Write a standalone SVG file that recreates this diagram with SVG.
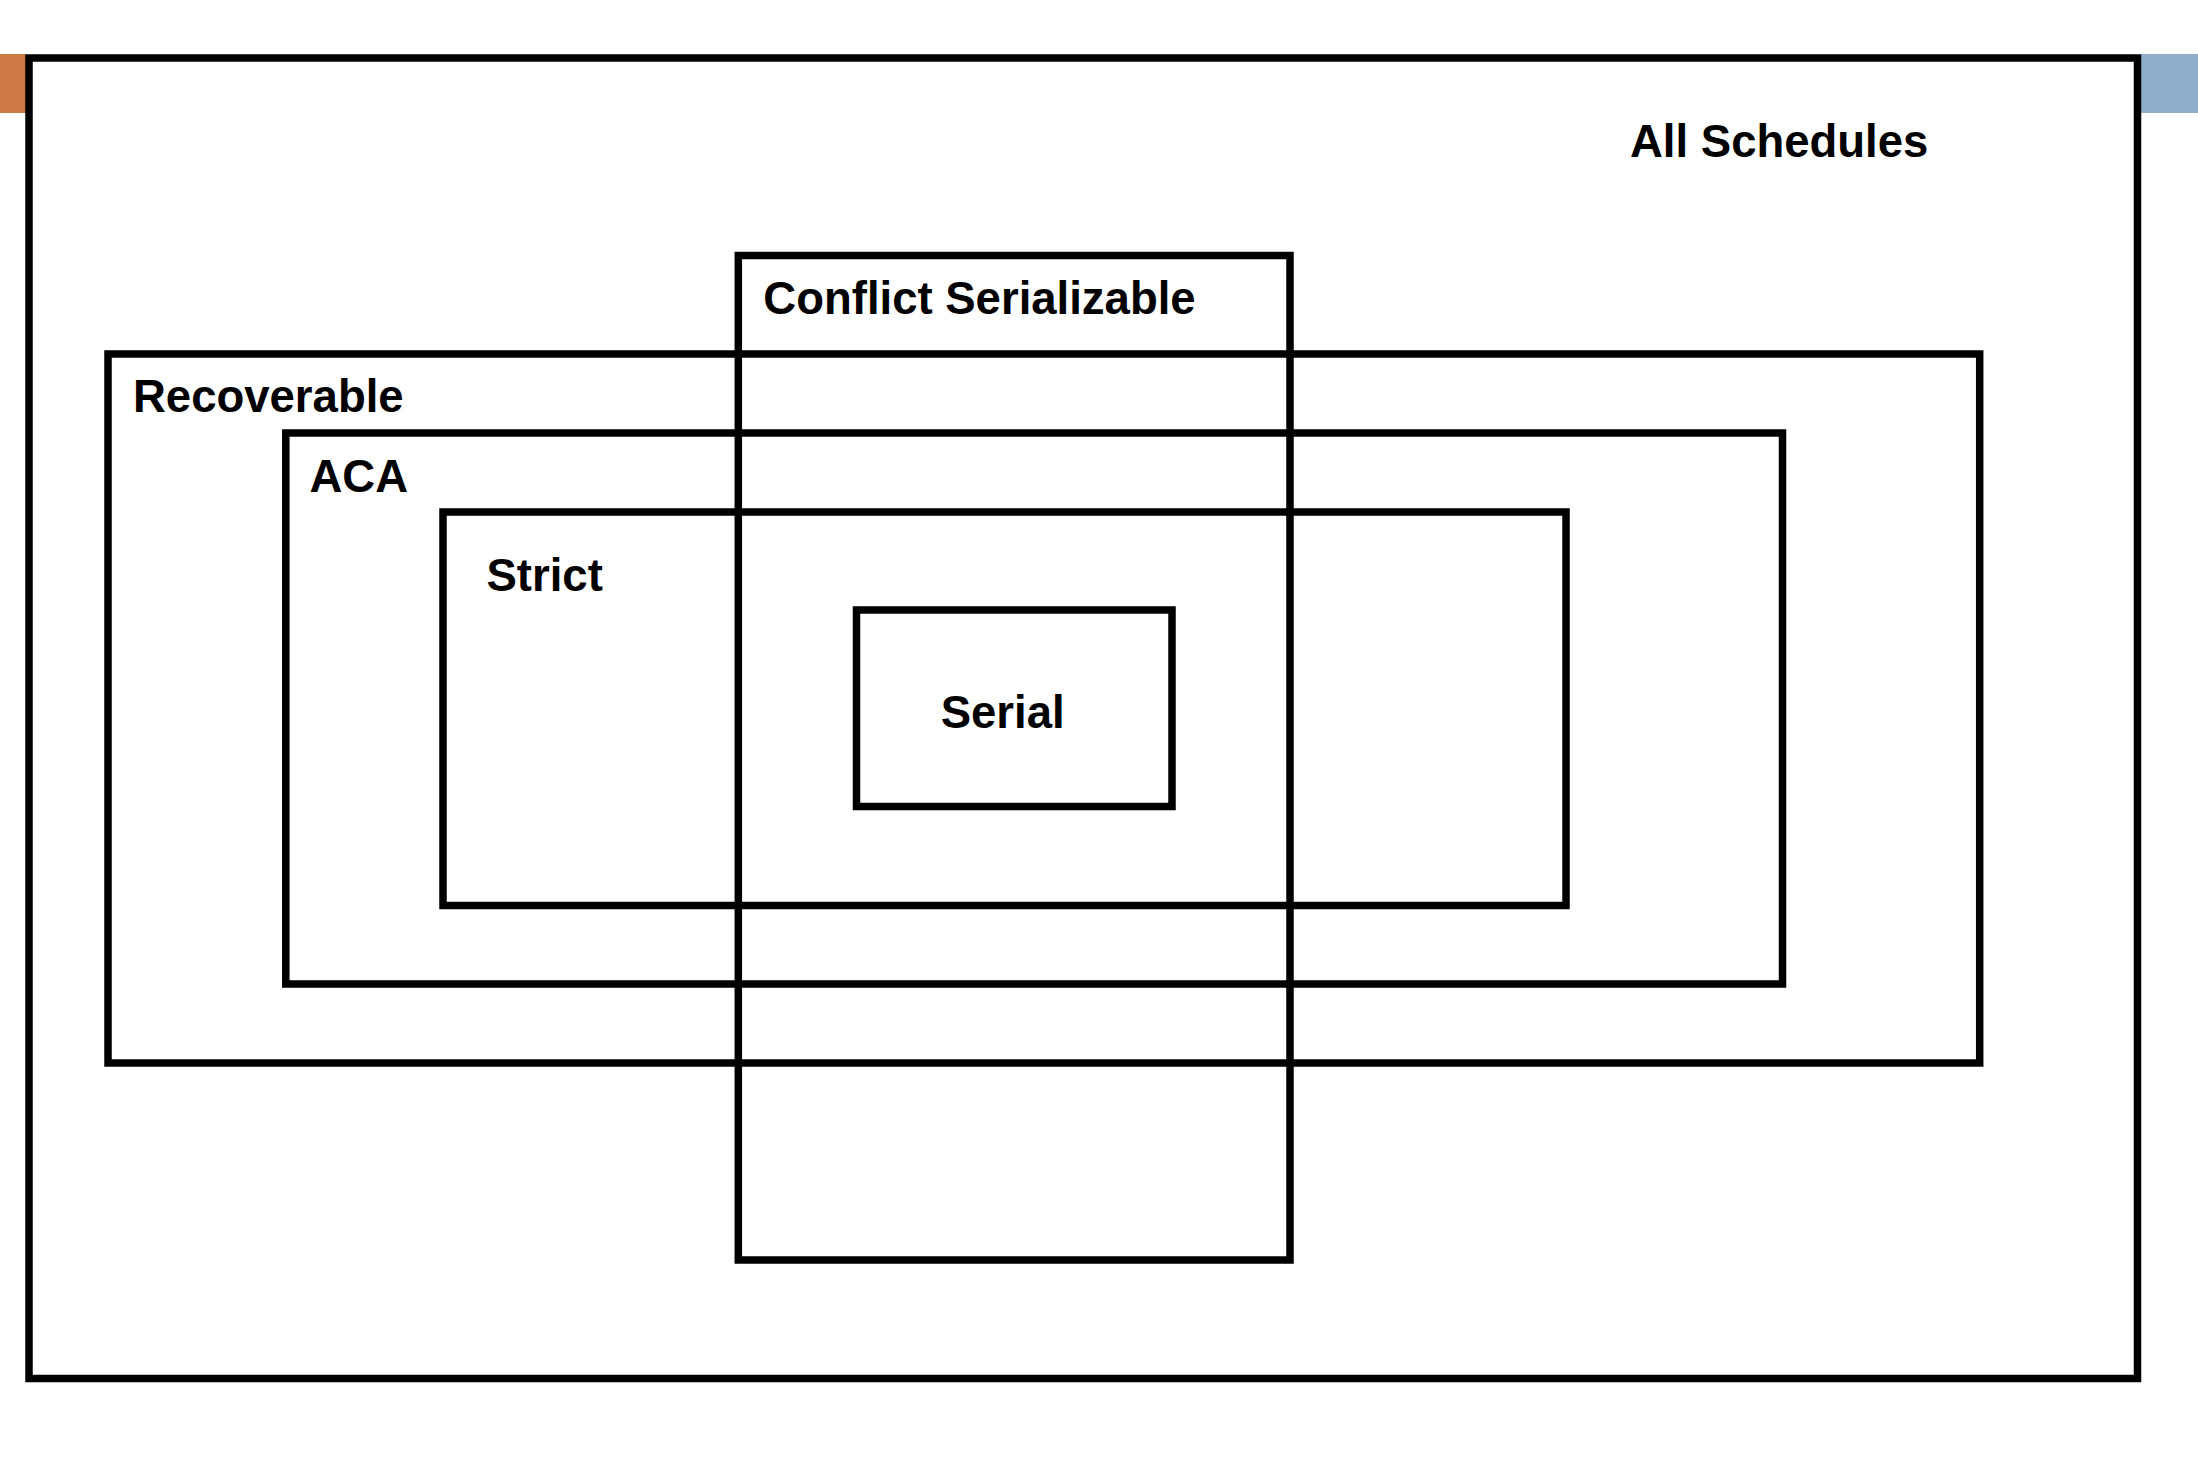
<svg xmlns="http://www.w3.org/2000/svg" width="2198" height="1468" viewBox="0 0 2198 1468">
<style>
.box{fill:none;stroke:#000;stroke-width:7.5}
.lbl{font-family:"Liberation Sans",Arial,sans-serif;font-weight:bold;font-size:45.5px;fill:#000}
</style>
<rect x="0" y="0" width="2198" height="1468" fill="#fff"/>
<rect x="0" y="54" width="26" height="59" fill="#CF7A44"/>
<rect x="2141" y="54" width="57" height="59" fill="#8FAECB"/>
<g id="all-schedules">
<rect class="box" x="29" y="58" width="2108.5" height="1320.5"/>
<text class="lbl" x="1630" y="156.5">All Schedules</text>
</g>
<g id="recoverable">
<rect class="box" x="108" y="354" width="1871.7" height="709"/>
<text class="lbl" x="133" y="412.3">Recoverable</text>
</g>
<g id="aca">
<rect class="box" x="285.8" y="433" width="1496.7" height="551"/>
<text class="lbl" x="309.5" y="491.7">ACA</text>
</g>
<g id="strict">
<rect class="box" x="443" y="512" width="1123" height="393.5"/>
<text class="lbl" x="486.5" y="590.5">Strict</text>
</g>
<g id="conflict-serializable">
<rect class="box" x="738.3" y="255.5" width="551.7" height="1004.5"/>
<text class="lbl" x="763.3" y="313.5">Conflict Serializable</text>
</g>
<g id="serial">
<rect class="box" x="856.5" y="610" width="315.5" height="196.5"/>
<text class="lbl" x="940.7" y="727.7">Serial</text>
</g>
<g id="connectors"></g>
</svg>
